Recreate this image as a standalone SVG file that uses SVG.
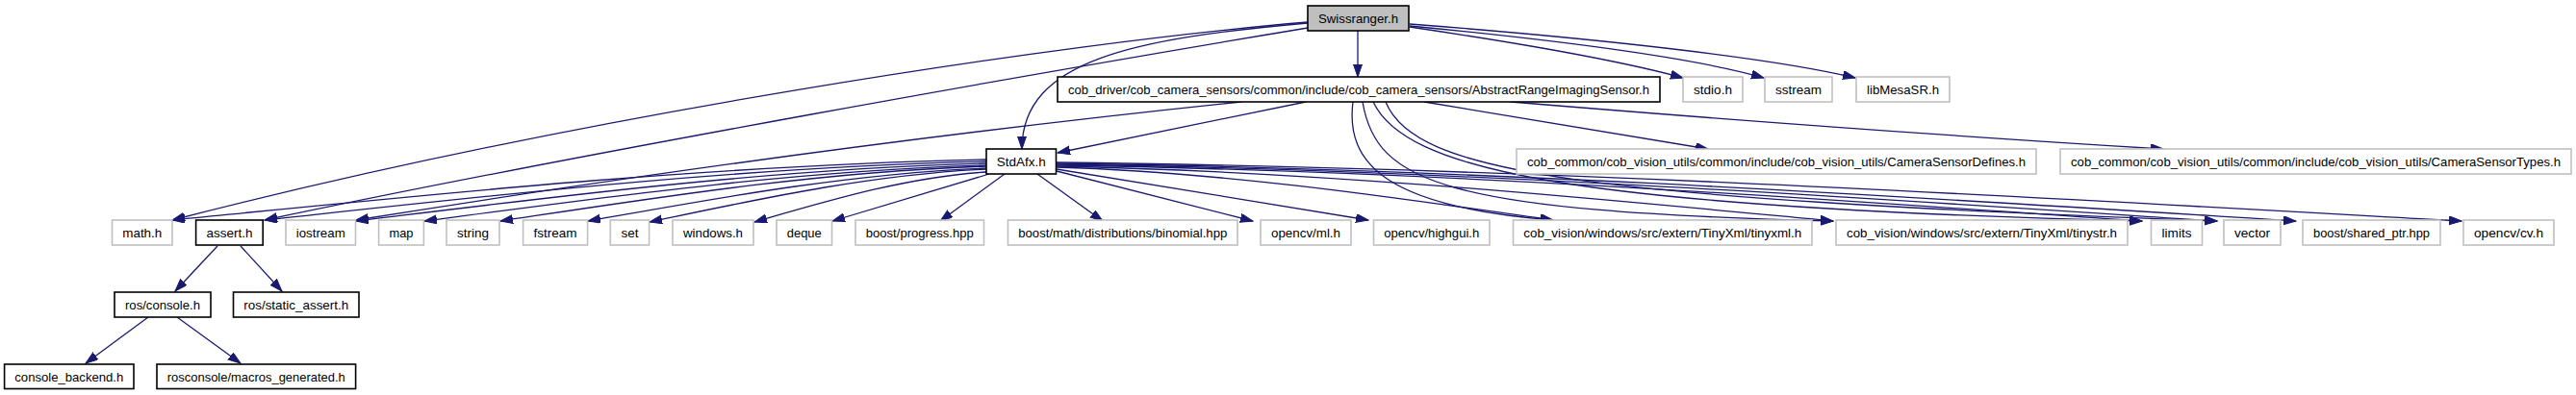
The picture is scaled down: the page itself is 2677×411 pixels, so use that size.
<svg xmlns="http://www.w3.org/2000/svg" width="2677" height="411" viewBox="0 0 2677 411">
<style>
.n rect{fill:#fff;stroke:#000;stroke-width:1.6}
.g rect{fill:#fff;stroke:#c0c0c0;stroke-width:1.6}
.root rect{fill:#bfbfbf;stroke:#000;stroke-width:1.6}
text{font-family:"Liberation Sans",Arial,sans-serif;font-size:13px;fill:#000;text-anchor:middle}
#edges path{fill:none;stroke:#191970;stroke-width:1.3;marker-end:url(#ah)}
</style>
<defs>
<marker id="ah" markerUnits="userSpaceOnUse" markerWidth="14" markerHeight="10" refX="13" refY="4.5" orient="auto">
<path d="M0,0 L13,4.5 L0,9 z" fill="#191970" stroke="#191970" stroke-width="1"/>
</marker>
</defs>
<rect width="2677" height="411" fill="#fff"/>
<g id="edges">
<path d="M1411,32 L1411,80"/>
<path d="M1359,24 C1180,40 1062,62 1062,155"/>
<path d="M1359,23 C1100,45 600,120 179,229"/>
<path d="M1359,29 C1100,72 600,160 275,229"/>
<path d="M1465,28 C1580,45 1680,62 1749,81"/>
<path d="M1465,27 C1620,42 1760,60 1833,81"/>
<path d="M1465,25 C1660,40 1840,60 1928,81"/>
<path d="M1357,106 L1099,159"/>
<path d="M1290,106 C1000,136 700,176 370,229"/>
<path d="M1406,106 C1398,170 1440,215 1614,229"/>
<path d="M1416,106 C1430,190 1500,220 1905,230"/>
<path d="M1427,106 C1460,175 1620,215 2226,230"/>
<path d="M1440,106 C1470,180 1640,205 2304,230"/>
<path d="M1480,106 L1775,155"/>
<path d="M1570,106 C1800,125 2000,140 2248,155"/>
<path d="M1025,166 C728.9,172.3 432.8,203.8 179,229"/>
<path d="M1025,168 C762.5,174.1 500,204.6 275,229"/>
<path d="M1025,170 C795.8,176 566.5,206 370,230"/>
<path d="M1025,172 C820.6,177.8 616.2,206.8 441,230"/>
<path d="M1025,173 C848.3,178.7 671.5,207.2 520,230"/>
<path d="M1025,175 C880.1,180.5 735.2,208 611,230"/>
<path d="M1025,176 C902.5,181.5 780,209 675,231"/>
<path d="M1025,179 C940.7,184.2 856.3,210.2 784,231"/>
<path d="M1028,181 L865,230"/>
<path d="M1044,181 L977,230"/>
<path d="M1078,181 L1146,230"/>
<path d="M1098,178 L1302,230"/>
<path d="M1098,176 L1422,229"/>
<path d="M1098,174 C1278.6,179.4 1459.2,207 1614,229"/>
<path d="M1098,173 C1380.5,178.7 1662.9,207.2 1905,230"/>
<path d="M1098,172 C1492.8,177.8 1887.6,206.8 2226,230"/>
<path d="M1098,171 C1520.1,176.9 1942.2,206.4 2304,230"/>
<path d="M1098,170 C1548.8,176 1999.6,206 2386,230"/>
<path d="M1098,169 C1609,175.1 2120,205.6 2558,230"/>
<path d="M226,256 L182,303"/>
<path d="M250,256 L293,303"/>
<path d="M154,330 L89,378"/>
<path d="M184,330 L250,378"/>
</g>
<g id="n_swissranger" class="root"><rect x="1359" y="6" width="105" height="26"/><text x="1411.5" y="23.5" textLength="83" lengthAdjust="spacingAndGlyphs">Swissranger.h</text></g>
<g id="n_abstract" class="n"><rect x="1099" y="80" width="626" height="26"/><text x="1412" y="97.5" textLength="604" lengthAdjust="spacingAndGlyphs">cob_driver/cob_camera_sensors/common/include/cob_camera_sensors/AbstractRangeImagingSensor.h</text></g>
<g id="n_stdio" class="g"><rect x="1749" y="80" width="62" height="26"/><text x="1780" y="97.5" textLength="40" lengthAdjust="spacingAndGlyphs">stdio.h</text></g>
<g id="n_sstream" class="g"><rect x="1834" y="80" width="70" height="26"/><text x="1869" y="97.5" textLength="48" lengthAdjust="spacingAndGlyphs">sstream</text></g>
<g id="n_libmesasr" class="g"><rect x="1929" y="80" width="97" height="26"/><text x="1977.5" y="97.5" textLength="75" lengthAdjust="spacingAndGlyphs">libMesaSR.h</text></g>
<g id="n_stdafx" class="n"><rect x="1025" y="155" width="72.5" height="26"/><text x="1061.25" y="172.5" textLength="51" lengthAdjust="spacingAndGlyphs">StdAfx.h</text></g>
<g id="n_defines" class="g"><rect x="1576" y="155" width="540" height="26"/><text x="1846" y="172.5" textLength="518" lengthAdjust="spacingAndGlyphs">cob_common/cob_vision_utils/common/include/cob_vision_utils/CameraSensorDefines.h</text></g>
<g id="n_types" class="g"><rect x="2141" y="155" width="531" height="26"/><text x="2406.5" y="172.5" textLength="509" lengthAdjust="spacingAndGlyphs">cob_common/cob_vision_utils/common/include/cob_vision_utils/CameraSensorTypes.h</text></g>
<g id="n_math" class="g"><rect x="116.5" y="229" width="62.5" height="26"/><text x="147.75" y="246.5" textLength="41" lengthAdjust="spacingAndGlyphs">math.h</text></g>
<g id="n_assert" class="n"><rect x="203.6" y="229" width="69.6" height="26"/><text x="238.4" y="246.5" textLength="48" lengthAdjust="spacingAndGlyphs">assert.h</text></g>
<g id="n_iostream" class="g"><rect x="297" y="229" width="72.5" height="26"/><text x="333.25" y="246.5" textLength="51" lengthAdjust="spacingAndGlyphs">iostream</text></g>
<g id="n_map" class="g"><rect x="393.6" y="229" width="46.8" height="26"/><text x="417" y="246.5" textLength="25" lengthAdjust="spacingAndGlyphs">map</text></g>
<g id="n_string" class="g"><rect x="464" y="229" width="55" height="26"/><text x="491.5" y="246.5" textLength="33" lengthAdjust="spacingAndGlyphs">string</text></g>
<g id="n_fstream" class="g"><rect x="543.6" y="229" width="67" height="26"/><text x="577" y="246.5" textLength="45" lengthAdjust="spacingAndGlyphs">fstream</text></g>
<g id="n_set" class="g"><rect x="634.3" y="229" width="40.3" height="26"/><text x="654.5" y="246.5" textLength="18" lengthAdjust="spacingAndGlyphs">set</text></g>
<g id="n_windows" class="g"><rect x="699" y="229" width="84" height="26"/><text x="741" y="246.5" textLength="62" lengthAdjust="spacingAndGlyphs">windows.h</text></g>
<g id="n_deque" class="g"><rect x="807" y="229" width="57.5" height="26"/><text x="835.75" y="246.5" textLength="36" lengthAdjust="spacingAndGlyphs">deque</text></g>
<g id="n_progress" class="g"><rect x="889" y="229" width="133.5" height="26"/><text x="955.75" y="246.5" textLength="112" lengthAdjust="spacingAndGlyphs">boost/progress.hpp</text></g>
<g id="n_binomial" class="g"><rect x="1047.5" y="229" width="238.5" height="26"/><text x="1166.75" y="246.5" textLength="217" lengthAdjust="spacingAndGlyphs">boost/math/distributions/binomial.hpp</text></g>
<g id="n_ml" class="g"><rect x="1310" y="229" width="94" height="26"/><text x="1357" y="246.5" textLength="72" lengthAdjust="spacingAndGlyphs">opencv/ml.h</text></g>
<g id="n_highgui" class="g"><rect x="1427.5" y="229" width="120.5" height="26"/><text x="1487.75" y="246.5" textLength="99" lengthAdjust="spacingAndGlyphs">opencv/highgui.h</text></g>
<g id="n_tinyxml" class="g"><rect x="1572.5" y="229" width="310.5" height="26"/><text x="1727.75" y="246.5" textLength="289" lengthAdjust="spacingAndGlyphs">cob_vision/windows/src/extern/TinyXml/tinyxml.h</text></g>
<g id="n_tinystr" class="g"><rect x="1908" y="229" width="303" height="26"/><text x="2059.5" y="246.5" textLength="281" lengthAdjust="spacingAndGlyphs">cob_vision/windows/src/extern/TinyXml/tinystr.h</text></g>
<g id="n_limits" class="g"><rect x="2235.5" y="229" width="53" height="26"/><text x="2262" y="246.5" textLength="31" lengthAdjust="spacingAndGlyphs">limits</text></g>
<g id="n_vector" class="g"><rect x="2311" y="229" width="59" height="26"/><text x="2340.5" y="246.5" textLength="37" lengthAdjust="spacingAndGlyphs">vector</text></g>
<g id="n_sharedptr" class="g"><rect x="2393" y="229" width="143" height="26"/><text x="2464.5" y="246.5" textLength="121" lengthAdjust="spacingAndGlyphs">boost/shared_ptr.hpp</text></g>
<g id="n_cv" class="g"><rect x="2560" y="229" width="94" height="26"/><text x="2607" y="246.5" textLength="72" lengthAdjust="spacingAndGlyphs">opencv/cv.h</text></g>
<g id="n_rosconsole" class="n"><rect x="119" y="304" width="100" height="26"/><text x="169" y="321.5" textLength="78" lengthAdjust="spacingAndGlyphs">ros/console.h</text></g>
<g id="n_staticassert" class="n"><rect x="242.5" y="304" width="130.5" height="26"/><text x="307.75" y="321.5" textLength="109" lengthAdjust="spacingAndGlyphs">ros/static_assert.h</text></g>
<g id="n_consolebackend" class="n"><rect x="4.6" y="379" width="134.4" height="25.5"/><text x="71.8" y="396.5" textLength="113" lengthAdjust="spacingAndGlyphs">console_backend.h</text></g>
<g id="n_macros" class="n"><rect x="163" y="379" width="206.6" height="25.5"/><text x="266.3" y="396.5" textLength="185" lengthAdjust="spacingAndGlyphs">rosconsole/macros_generated.h</text></g>
</svg>
